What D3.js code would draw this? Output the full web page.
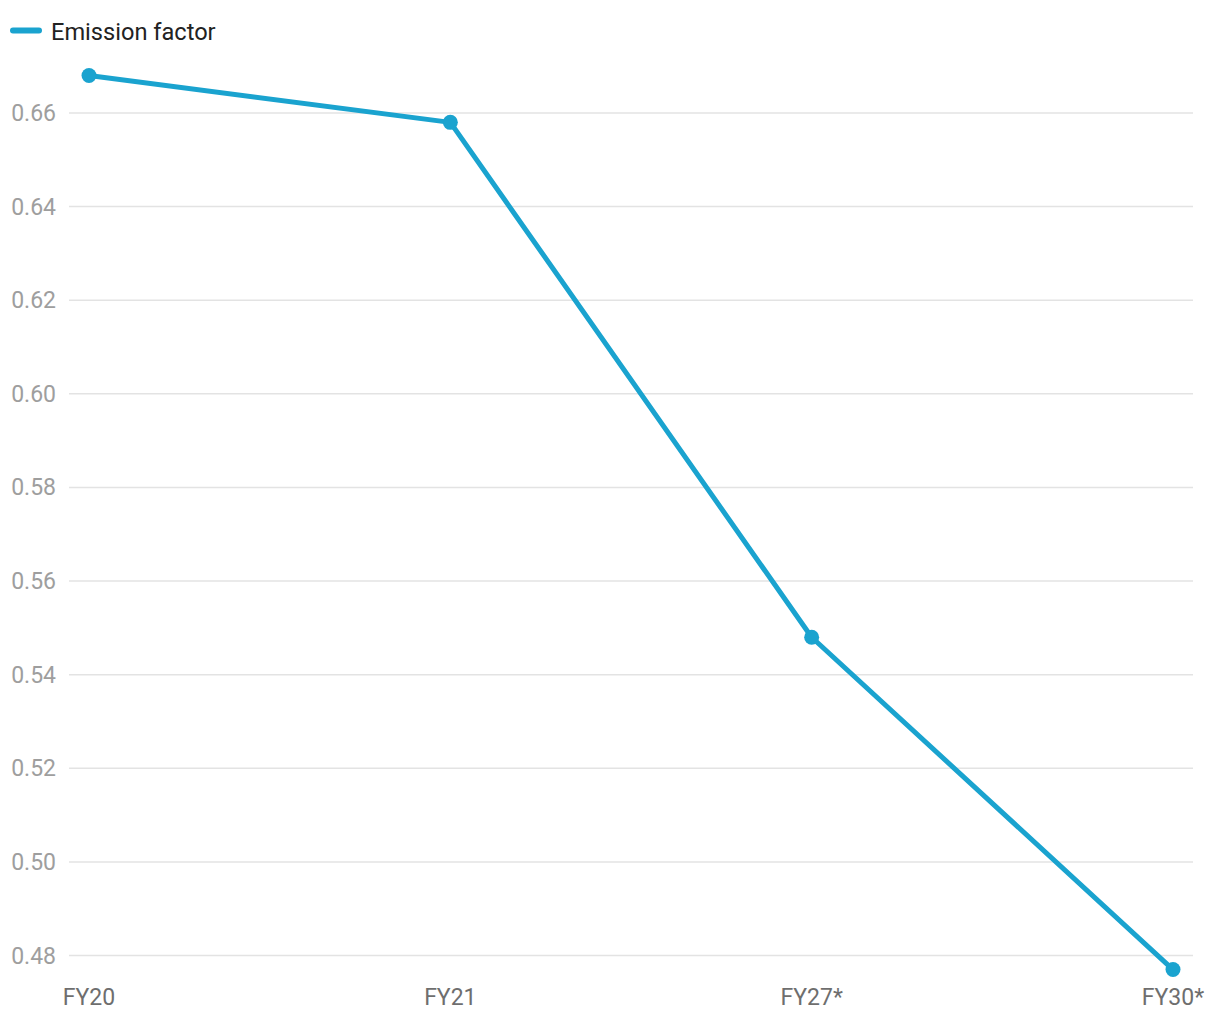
<!DOCTYPE html>
<html><head><meta charset="utf-8">
<script src="https://cdn.jsdelivr.net/npm/d3@7"></script>
<style>body{margin:0;background:#fff;font-family:Roboto,sans-serif}</style>
</head><body><svg id="c" width="1220" height="1020"></svg>
<script>
const categories = ["FY20","FY21","FY27*","FY30*"];
const values = [0.668,0.658,0.548,0.477];
const yTicks = [0.48,0.50,0.52,0.54,0.56,0.58,0.60,0.62,0.64,0.66];
const seriesName = "Emission factor";

const svg = d3.select("#c");
const color = "#1aa3cf";
const x = d3.scalePoint().domain(categories).range([89,1173]);
const y = d3.scaleLinear().domain([0.48,0.66]).range([955.5,113]);

const grid = svg.append("g");
grid.selectAll("line").data(yTicks).join("line")
  .attr("x1",69).attr("x2",1193)
  .attr("y1",d=>y(d)).attr("y2",d=>y(d))
  .attr("stroke","#e3e3e3").attr("stroke-width",1.5);
grid.selectAll("text").data(yTicks).join("text")
  .attr("x",56).attr("y",d=>y(d)+8)
  .attr("text-anchor","end").attr("font-size",23).attr("fill","#9e9e9e")
  .text(d=>d3.format(".2f")(d));

svg.append("g").selectAll("text").data(categories).join("text")
  .attr("x",d=>x(d)).attr("y",1005).attr("text-anchor","middle")
  .attr("font-size",23).attr("fill","#6e6e6e").text(d=>d);

const line = d3.line().x((d,i)=>x(categories[i])).y(d=>y(d));
svg.append("path").datum(values).attr("d",line)
  .attr("fill","none").attr("stroke",color).attr("stroke-width",5)
  .attr("stroke-linejoin","round");
svg.append("g").selectAll("circle").data(values).join("circle")
  .attr("cx",(d,i)=>x(categories[i])).attr("cy",d=>y(d)).attr("r",7.5)
  .attr("fill",color);

const lg = svg.append("g");
lg.append("line").attr("x1",13).attr("x2",39).attr("y1",30.5).attr("y2",30.5)
  .attr("stroke",color).attr("stroke-width",6).attr("stroke-linecap","round");
lg.append("text").attr("x",51).attr("y",40)
  .attr("font-size",23.6).attr("fill","#222").text(seriesName);
</script></body></html>
